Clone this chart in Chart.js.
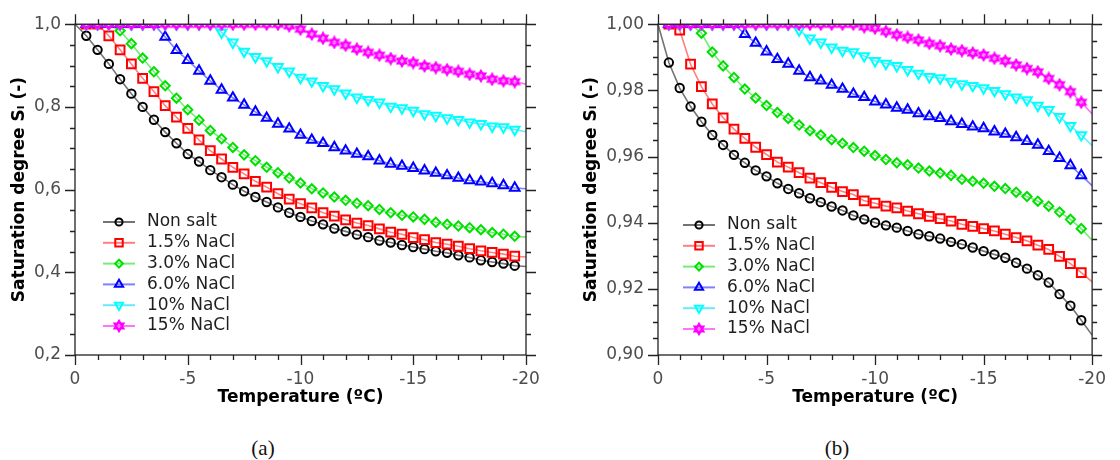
<!DOCTYPE html>
<html>
<head>
<meta charset="utf-8">
<script src="https://cdn.jsdelivr.net/npm/chart.js@4.4.1/dist/chart.umd.min.js"></script>
<style>
  html, body { margin: 0; padding: 0; background: #fff; }
  #wrap { position: relative; width: 1120px; height: 460px; overflow: hidden; }
  .box { position: absolute; top: 0; width: 560px; height: 420px; }
  .cap {
    position: absolute; top: 436px; line-height: 24px;
    font-family: "Liberation Serif", serif; font-size: 21px; color: #111;
    transform: translateX(-50%);
  }
</style>
</head>
<body>
<div id="wrap">
  <div class="box" style="left:0"><canvas id="chartA"></canvas></div>
  <div class="box" style="left:560px"><canvas id="chartB"></canvas></div>
  <div class="cap" style="left:263px">(a)</div>
  <div class="cap" style="left:837px">(b)</div>
</div>

<script>
// temperature (ºC), one entry every 0.5 degree
const temperatures = [0, -0.5, -1, -1.5, -2, -2.5, -3, -3.5, -4, -4.5, -5, -5.5, -6, -6.5, -7, -7.5,
  -8, -8.5, -9, -9.5, -10, -10.5, -11, -11.5, -12, -12.5, -13, -13.5, -14, -14.5, -15, -15.5,
  -16, -16.5, -17, -17.5, -18, -18.5, -19, -19.5, -20];

const seriesLabels = ["Non salt", "1.5% NaCl", "3.0% NaCl", "6.0% NaCl", "10% NaCl", "15% NaCl"];

const xTicks = [0, -5, -10, -15, -20];
const yTicksA = [0.2, 0.4, 0.6, 0.8, 1.0];
const yTicksB = [0.90, 0.92, 0.94, 0.96, 0.98, 1.00];

// panel (a)
const a_nonSalt = [1.0, 0.972, 0.938, 0.904, 0.867, 0.832, 0.800, 0.769, 0.739, 0.712, 0.686, 0.668, 0.647,
  0.630, 0.612, 0.596, 0.582, 0.570, 0.557, 0.544, 0.534, 0.524, 0.516, 0.506, 0.499, 0.491, 0.485, 0.477,
  0.472, 0.466, 0.461, 0.456, 0.451, 0.447, 0.441, 0.436, 0.429, 0.425, 0.421, 0.416, 0.414];
const a_nacl1_5 = [1.0, 1.0, 1.0, 0.972, 0.938, 0.904, 0.869, 0.837, 0.803, 0.775, 0.748, 0.720, 0.694,
  0.674, 0.654, 0.638, 0.620, 0.606, 0.590, 0.577, 0.566, 0.556, 0.544, 0.536, 0.527, 0.519, 0.513, 0.505,
  0.497, 0.492, 0.484, 0.479, 0.472, 0.468, 0.463, 0.457, 0.452, 0.448, 0.444, 0.439, 0.437];
const a_nacl3_0 = [1.0, 1.0, 1.0, 1.0, 0.984, 0.953, 0.918, 0.885, 0.851, 0.821, 0.793, 0.768, 0.743,
  0.723, 0.702, 0.684, 0.670, 0.654, 0.641, 0.628, 0.616, 0.602, 0.592, 0.582, 0.574, 0.567, 0.561, 0.552,
  0.544, 0.538, 0.534, 0.528, 0.521, 0.516, 0.512, 0.508, 0.503, 0.496, 0.492, 0.487, 0.485];
const a_nacl6_0 = [1.0, 1.0, 1.0, 1.0, 1.0, 1.0, 1.0, 1.0, 0.969, 0.937, 0.913, 0.887, 0.863,
  0.841, 0.822, 0.805, 0.788, 0.773, 0.759, 0.747, 0.732, 0.720, 0.712, 0.702, 0.694, 0.686, 0.680, 0.670,
  0.662, 0.657, 0.652, 0.646, 0.640, 0.634, 0.628, 0.622, 0.619, 0.615, 0.610, 0.604, 0.602];
const a_nacl10 = [1.0, 1.0, 1.0, 1.0, 1.0, 1.0, 1.0, 1.0, 1.0, 1.0, 1.0, 1.0, 1.0,
  0.980, 0.956, 0.934, 0.921, 0.911, 0.897, 0.886, 0.871, 0.862, 0.851, 0.843, 0.833, 0.823, 0.817, 0.811,
  0.801, 0.797, 0.791, 0.783, 0.779, 0.773, 0.769, 0.763, 0.759, 0.753, 0.751, 0.745, 0.740];
const a_nacl15 = [1.0, 1.0, 1.0, 1.0, 1.0, 1.0, 1.0, 1.0, 1.0, 1.0, 1.0, 1.0, 1.0,
  1.0, 1.0, 1.0, 1.0, 1.0, 1.0, 0.996, 0.988, 0.976, 0.966, 0.956, 0.949, 0.940, 0.932, 0.925,
  0.917, 0.911, 0.907, 0.899, 0.895, 0.890, 0.886, 0.879, 0.875, 0.867, 0.863, 0.861, 0.855];

// panel (b)
const b_nonSalt = [1.0, 0.9884, 0.9807, 0.9751, 0.9705, 0.9665, 0.9635, 0.9605, 0.9581, 0.9558, 0.9540,
  0.9519, 0.9502, 0.9489, 0.9474, 0.9462, 0.9449, 0.9437, 0.9422, 0.9410, 0.9400, 0.9392, 0.9385, 0.9375,
  0.9365, 0.9359, 0.9352, 0.9342, 0.9335, 0.9325, 0.9314, 0.9304, 0.9294, 0.9279, 0.9261, 0.9241, 0.9219,
  0.9184, 0.9149, 0.9105, 0.9060];
const b_nacl1_5 = [1.0, 1.0, 0.9982, 0.9879, 0.9811, 0.9759, 0.9717, 0.9683, 0.9655, 0.9628, 0.9606,
  0.9583, 0.9568, 0.9551, 0.9535, 0.9521, 0.9507, 0.9494, 0.9485, 0.9466, 0.9459, 0.9450, 0.9445, 0.9435,
  0.9427, 0.9419, 0.9412, 0.9405, 0.9395, 0.9389, 0.9382, 0.9375, 0.9365, 0.9355, 0.9345, 0.9332, 0.9319,
  0.9298, 0.9276, 0.9249, 0.9221];
const b_nacl3_0 = [1.0, 1.0, 1.0, 1.0, 0.9973, 0.9916, 0.9874, 0.9839, 0.9804, 0.9777, 0.9754,
  0.9733, 0.9715, 0.9695, 0.9678, 0.9665, 0.9651, 0.9640, 0.9627, 0.9616, 0.9603, 0.9591, 0.9581, 0.9575,
  0.9565, 0.9556, 0.9550, 0.9543, 0.9531, 0.9525, 0.9519, 0.9510, 0.9503, 0.9492, 0.9479, 0.9465, 0.9450,
  0.9432, 0.9410, 0.9382, 0.9347];
const b_nacl6_0 = [1.0, 1.0, 1.0, 1.0, 1.0, 1.0, 1.0, 1.0, 0.9970, 0.9943, 0.9917,
  0.9894, 0.9880, 0.9859, 0.9839, 0.9829, 0.9816, 0.9804, 0.9789, 0.9779, 0.9766, 0.9757, 0.9747, 0.9741,
  0.9730, 0.9721, 0.9716, 0.9706, 0.9698, 0.9690, 0.9685, 0.9675, 0.9668, 0.9658, 0.9646, 0.9635, 0.9616,
  0.9595, 0.9573, 0.9543, 0.9512];
const b_nacl10 = [1.0, 1.0, 1.0, 1.0, 1.0, 1.0, 1.0, 1.0, 1.0, 1.0, 1.0,
  1.0, 1.0, 0.9982, 0.9957, 0.9945, 0.9930, 0.9920, 0.9916, 0.9904, 0.9889, 0.9881, 0.9874, 0.9862,
  0.9851, 0.9841, 0.9837, 0.9827, 0.9819, 0.9814, 0.9807, 0.9799, 0.9789, 0.9779, 0.9771, 0.9754, 0.9741,
  0.9720, 0.9693, 0.9665, 0.9633];
const b_nacl15 = [1.0, 1.0, 1.0, 1.0, 1.0, 1.0, 1.0, 1.0, 1.0, 1.0, 1.0,
  1.0, 1.0, 1.0, 1.0, 1.0, 1.0, 1.0, 1.0, 0.9992, 0.9988, 0.9978, 0.9968, 0.9960,
  0.9952, 0.9942, 0.9935, 0.9925, 0.9920, 0.9913, 0.9907, 0.9897, 0.9889, 0.9877, 0.9866, 0.9856, 0.9836,
  0.9817, 0.9796, 0.9764, 0.9729];

const FONT = "'DejaVu Sans', sans-serif";

// six-pointed star marker (two triangles)
function hexagram(color) {
  const c = document.createElement("canvas");
  c.width = c.height = 14;
  const g = c.getContext("2d");
  g.strokeStyle = color;
  g.lineWidth = 2;
  g.lineJoin = "miter";
  for (const off of [-Math.PI / 2, Math.PI / 2]) {
    g.beginPath();
    for (let k = 0; k < 3; k++) {
      const a = off + k * 2 * Math.PI / 3;
      const px = 7 + 5.2 * Math.cos(a), py = 7 + 5.2 * Math.sin(a);
      if (k === 0) g.moveTo(px, py); else g.lineTo(px, py);
    }
    g.closePath();
    g.stroke();
  }
  return c;
}

const looks = [
  { color: "#000000", line: "rgba(0,0,0,0.55)",      style: "circle",   radius: 4.2, rot: 0 },
  { color: "#ff0000", line: "rgba(255,0,0,0.5)",     style: "rect",     radius: 6.2, rot: 0 },
  { color: "#00e000", line: "rgba(0,224,0,0.55)",    style: "rectRot",  radius: 4.6, rot: 0 },
  { color: "#0000ff", line: "rgba(0,0,255,0.5)",     style: "triangle", radius: 5.6, rot: 0 },
  { color: "#00ffff", line: "rgba(0,220,255,0.6)",   style: "triangle", radius: 5.6, rot: 180 },
  { color: "#ff00ff", line: "rgba(255,0,255,0.55)",  style: hexagram("#ff00ff"), radius: 5, rot: 0 }
];

const lastIdx = temperatures.length - 1;

function buildDatasets(seriesList) {
  return seriesList.map((vals, i) => {
    const lk = looks[i];
    return {
      label: seriesLabels[i],
      data: temperatures.map((t, k) => ({ x: t, y: vals[k] })),
      borderColor: lk.line,
      borderWidth: 1.6,
      pointStyle: lk.style,
      pointRotation: lk.rot,
      pointRadius: ctx => (ctx.dataIndex === 0 || ctx.dataIndex === lastIdx) ? 0 : lk.radius,
      pointBorderColor: lk.color,
      pointBackgroundColor: "rgba(0,0,0,0)",
      pointBorderWidth: 2,
      tension: 0,
      clip: 0,
      order: seriesList.length - 1 - i
    };
  });
}

// box around the plot with outward minor/major ticks on all four sides
const frameTicks = {
  id: "frameTicks",
  afterDatasetsDraw(chart, args, opts) {
    const { ctx, chartArea: a, scales } = chart;
    const x = scales.x, y = scales.y;
    ctx.save();
    ctx.strokeStyle = "#222";
    ctx.lineWidth = 1.3;
    ctx.strokeRect(a.left, a.top, a.right - a.left, a.bottom - a.top);
    ctx.beginPath();
    const nx = Math.round((x.max - x.min) / opts.xMinor);
    for (let k = 0; k <= nx; k++) {
      const v = x.min + k * opts.xMinor;
      const major = Math.abs(v / opts.xMajor - Math.round(v / opts.xMajor)) < 1e-6;
      const len = major ? 10 : 5;
      const px = Math.round(x.getPixelForValue(v)) + 0.5;
      ctx.moveTo(px, a.bottom); ctx.lineTo(px, a.bottom + len);
      ctx.moveTo(px, a.top); ctx.lineTo(px, a.top - len);
    }
    const ny = Math.round((y.max - y.min) / opts.yMinor);
    for (let k = 0; k <= ny; k++) {
      const v = y.min + k * opts.yMinor;
      const major = Math.abs(v / opts.yMajor - Math.round(v / opts.yMajor)) < 1e-6;
      const len = major ? 10 : 5;
      const py = Math.round(y.getPixelForValue(v)) + 0.5;
      ctx.moveTo(a.left, py); ctx.lineTo(a.left - len, py);
      ctx.moveTo(a.right, py); ctx.lineTo(a.right + len, py);
    }
    ctx.stroke();
    ctx.restore();
  }
};

// legend drawn inside the plot: short line with the marker on it, then the label
const insideLegend = {
  id: "insideLegend",
  afterDraw(chart, args, opts) {
    const { ctx, chartArea: a } = chart;
    ctx.save();
    chart.data.datasets.forEach((ds, i) => {
      const lk = looks[i];
      const yy = a.bottom - opts.fromBottom + i * 20.8;
      const x0 = a.left + opts.dx;
      ctx.strokeStyle = lk.line;
      ctx.lineWidth = 2;
      ctx.beginPath();
      ctx.moveTo(x0, yy); ctx.lineTo(x0 + 32, yy);
      ctx.stroke();
      ctx.strokeStyle = lk.color;
      ctx.fillStyle = "rgba(0,0,0,0)";
      ctx.lineWidth = 2;
      Chart.helpers.drawPoint(ctx, {
        pointStyle: lk.style, rotation: lk.rot, radius: lk.radius * 0.85, borderWidth: 2
      }, x0 + 16, yy);
      ctx.fillStyle = "#1e1e1e";
      ctx.font = "17px " + FONT;
      ctx.textBaseline = "middle";
      ctx.textAlign = "left";
      ctx.fillText(ds.label, x0 + 44, yy);
    });
    ctx.restore();
  }
};

function makeChart(id, seriesList, yMin, yMax, yTicks, digits, cfg) {
  return new Chart(document.getElementById(id), {
    type: "line",
    data: { datasets: buildDatasets(seriesList) },
    plugins: [frameTicks, insideLegend],
    options: {
      responsive: true,
      maintainAspectRatio: false,
      animation: false,
      events: [],
      layout: { padding: { top: 23, right: cfg.rightPad, left: 0, bottom: 0 } },
      plugins: {
        legend: { display: false },
        tooltip: { enabled: false },
        frameTicks: { xMinor: 1, xMajor: 5, yMinor: cfg.yMinor, yMajor: cfg.yMajor },
        insideLegend: { dx: cfg.legendDx, fromBottom: cfg.legendFromBottom }
      },
      scales: {
        x: {
          type: "linear",
          min: -20,
          max: 0,
          reverse: true,
          afterBuildTicks: s => { s.ticks = xTicks.map(v => ({ value: v })); },
          afterFit: s => { s.height = 65; },
          grid: { display: false, drawTicks: false },
          border: { display: false },
          ticks: {
            color: "#4d4d4d",
            padding: 14,
            maxRotation: 0,
            font: { family: FONT, size: 17 },
            callback: v => String(v)
          },
          title: {
            display: true,
            text: "Temperature (ºC)",
            color: "#000",
            padding: { top: 0, bottom: 12 },
            font: { family: FONT, size: 17, weight: "bold" }
          }
        },
        y: {
          type: "linear",
          min: yMin,
          max: yMax,
          afterBuildTicks: s => { s.ticks = yTicks.map(v => ({ value: v })); },
          afterFit: s => { s.width = cfg.yWidth; },
          grid: { display: false, drawTicks: false },
          border: { display: false },
          ticks: {
            color: "#4d4d4d",
            padding: 14,
            font: { family: FONT, size: 17 },
            callback: v => Number(v).toFixed(digits).replace(".", ",")
          },
          title: {
            display: true,
            text: "Saturation degree Sₗ (-)",
            color: "#000",
            padding: { top: cfg.titlePad, bottom: 0 },
            font: { family: FONT, size: 17, weight: "bold" }
          }
        }
      }
    }
  });
}

makeChart("chartA",
  [a_nonSalt, a_nacl1_5, a_nacl3_0, a_nacl6_0, a_nacl10, a_nacl15],
  0.2, 1.0, yTicksA, 1,
  { rightPad: 34, yWidth: 75, titlePad: 9, yMinor: 0.05, yMajor: 0.2, legendDx: 28, legendFromBottom: 133 });

makeChart("chartB",
  [b_nonSalt, b_nacl1_5, b_nacl3_0, b_nacl6_0, b_nacl10, b_nacl15],
  0.90, 1.00, yTicksB, 2,
  { rightPad: 23, yWidth: 98, titlePad: 21, yMinor: 0.005, yMajor: 0.02, legendDx: 25, legendFromBottom: 130 });
</script>
</body>
</html>
